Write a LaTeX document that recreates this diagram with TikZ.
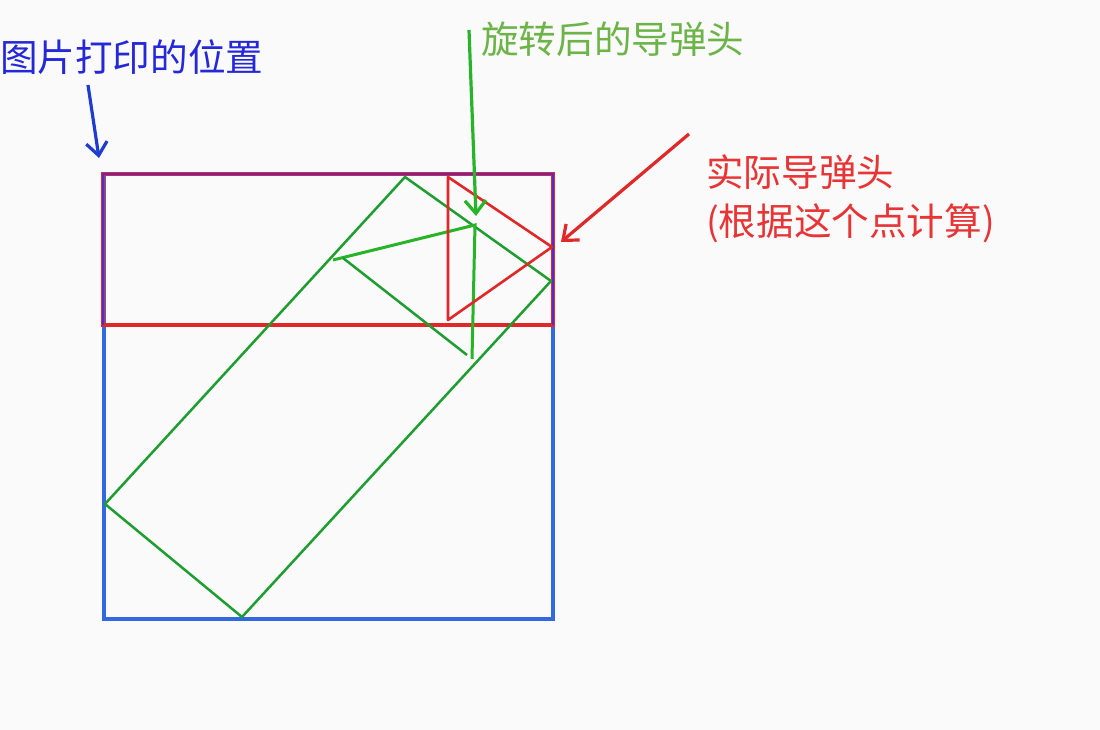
\documentclass[tikz,border=0pt]{standalone}
\usepackage{fontspec}
\newfontfamily\cjk{Noto Sans CJK SC}
\usetikzlibrary{arrows.meta}
\definecolor{sqblue}{HTML}{3268E0}
\definecolor{txtblue}{HTML}{2428D8}
\definecolor{arrblue}{HTML}{1E3CD0}
\definecolor{mred}{HTML}{E02828}
\definecolor{txtred}{HTML}{E83434}
\definecolor{mpurple}{HTML}{5A2AC8}
\definecolor{rgreen}{HTML}{1E9E30}
\definecolor{hgreen}{HTML}{28B428}
\definecolor{txtgreen}{HTML}{6CB448}
\tikzset{
  lbl/.style={anchor=base west, inner sep=0pt, font=\cjk\fontsize{37.6}{50}\selectfont},
  pointer/.style={line width=3.2pt, -{Straight Barb[length=13pt,width=21pt,line width=3.2pt]}},
}
\begin{document}
\begin{tikzpicture}[x=1pt,y=-1pt]
\useasboundingbox (0,0) rectangle (1100,730);
\fill[white!98!black] (0,0) rectangle (1100,730);

% coordinates
\coordinate (sqTL) at (104,174);
\coordinate (sqBR) at (553,619);
\coordinate (rrTL) at (103,174);
\coordinate (rrBR) at (553,325);
\coordinate (gT) at (405,177);
\coordinate (gR) at (551,281);
\coordinate (gB) at (242,617);
\coordinate (gL) at (105,504);
\coordinate (hA) at (333,260);
\coordinate (hA2) at (343,258);
\coordinate (hB) at (475,225);
\coordinate (hC) at (472,359);
\coordinate (hC2) at (467,355);
\coordinate (tA) at (448,177);
\coordinate (tB) at (552,247);
\coordinate (tC) at (448,320);

% blue square (printed image position)
\draw[sqblue, line width=3.2pt] (sqTL) rectangle (sqBR);
% red rectangle
\draw[mred, line width=3.2pt] (rrTL) rectangle (rrBR);
% shared edges
\draw[mpurple, line width=2.8pt] (103,325) -- (103,174) -- (553,174) -- (553,325);

% rotated rectangle
\draw[rgreen, line width=2.5pt, line join=round] (gT) -- (gR) -- (gB) -- (gL) -- cycle;
% rotated head
\draw[hgreen, line width=3pt] (hA) -- (hB) -- (hC);
\draw[rgreen, line width=2.5pt] (hA2) -- (hC2);
% actual head triangle
\draw[mred, line width=2.6pt, line join=round] (tA) -- (tB) -- (tC) -- cycle;

% labels
\node[lbl, text=txtblue] (lblue) at (0,72) {图片打印的位置};
\node[lbl, text=txtgreen] (lgreen) at (481,54) {旋转后的导弹头};
\node[lbl, text=txtred] (lred1) at (706,187) {实际导弹头};
\node[lbl, text=txtred] (lred2) at (706,236) {(根据这个点计算)};

% pointers
\coordinate (bS) at (88,85);
\coordinate (bE) at (99,158);
\coordinate (gS) at (469,30);
\coordinate (gE) at (476,216);
\coordinate (rS) at (689,134);
\coordinate (rE) at (561,242);
\draw[pointer, arrblue] (bS) -- (bE);
\draw[pointer, hgreen] (gS) -- (gE);
\draw[pointer, mred] (rS) -- (rE);
\end{tikzpicture}
\end{document}
